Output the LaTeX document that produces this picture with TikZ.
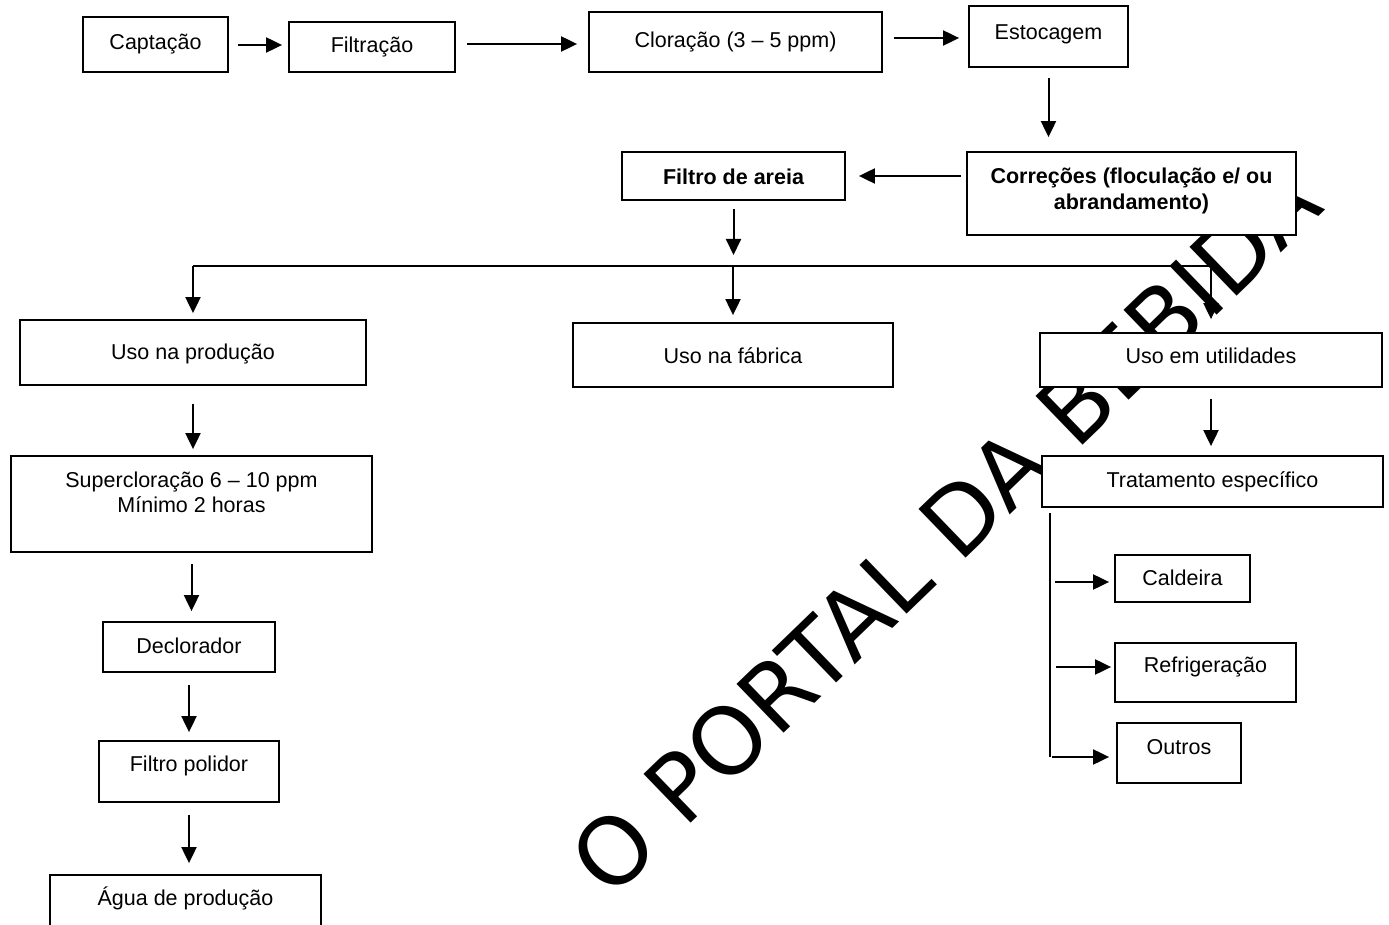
\documentclass[tikz,border=0pt]{standalone}
\usepackage{fontspec}
\setmainfont{Liberation Sans}
\newfontfamily\stampfont{DejaVu Sans}
\usetikzlibrary{arrows.meta}

\begin{document}
\begin{tikzpicture}[x=0.5pt, y=-0.5pt,
  box/.style={draw, fill=white, line width=0.9pt, inner sep=0pt, align=center,
    font=\fontsize{10.75}{13}\selectfont, text height=10pt, text depth=#1},
  box/.default=2.5pt,
  flow/.style={-{Triangle[length=8pt, width=7.5pt]}, line width=1pt},
  bus/.style={line width=0.8pt},
  stamp/.style={rotate=44, inner sep=0pt, font=\stampfont\fontsize{46.5}{46.5}\selectfont}]
\useasboundingbox (0,0) rectangle (1389,925);
\node[stamp] (mark) at (945,531) {O PORTAL DA BEBIDA};

\node[box=5pt, minimum width=72.5pt, minimum height=27.5pt] (capt) at (155.5,44.5) {Captação};
\node[box=4.5pt, minimum width=83pt, minimum height=25pt] (filt) at (372,47) {Filtração};
\node[box=4.5pt, minimum width=146.5pt, minimum height=30pt] (clor) at (735.5,42) {Cloração (3 – 5 ppm)};
\node[box=7pt, minimum width=79.5pt, minimum height=30.5pt] (esto) at (1048.5,36.5) {Estocagem};
\node[box=7pt, text height=23pt, minimum width=164.5pt, minimum height=41.5pt, font=\fontsize{10.75}{13}\selectfont\bfseries] (corr) at (1131.5,193.5) {Correções (floculação e/ ou\\abrandamento)};
\node[box=1.5pt, minimum width=111.5pt, minimum height=24pt, font=\fontsize{10.75}{13}\selectfont\bfseries] (fare) at (733.5,176) {Filtro de areia};

\node[box, minimum width=173pt, minimum height=32.5pt] (prod) at (193,352.5) {Uso na produção};
\node[box=1.5pt, minimum width=160pt, minimum height=32pt] (fabr) at (733,355) {Uso na fábrica};
\node[box=6.5pt, minimum width=171pt, minimum height=27pt] (util) at (1211,360) {Uso em utilidades};

\node[box=14pt, text height=23pt, minimum width=180.5pt, minimum height=48pt] (supc) at (191.5,504) {Supercloração 6 – 10 ppm\\Mínimo 2 horas};
\node[box=3.5pt, minimum width=86pt, minimum height=25pt] (decl) at (189,647) {Declorador};
\node[box=10pt, minimum width=90pt, minimum height=30.5pt] (fpol) at (189,771.5) {Filtro polidor};
\node[box=19.5pt, minimum width=135.5pt, minimum height=40pt] (agua) at (185.5,915) {Água de produção};

\node[box=4pt, minimum width=170.5pt, minimum height=25.5pt] (trat) at (1212.5,481.5) {Tratamento específico};
\node[box=3pt, minimum width=67.5pt, minimum height=23.5pt] (cald) at (1182.5,578.5) {Caldeira};
\node[box=10pt, minimum width=90.5pt, minimum height=29.5pt] (refr) at (1205.5,672.5) {Refrigeração};
\node[box=8.5pt, minimum width=62pt, minimum height=30pt] (outr) at (1179,753) {Outros};

\coordinate (split) at (733.5,266);
\coordinate (tap) at (1050,513);
\coordinate (tend) at (1050,757);

\draw[flow, shorten <=4.5pt, shorten >=3pt] (capt.east |- 0,45) -- (filt.west |- 0,45);
\draw[flow, shorten <=5.5pt, shorten >=5.5pt] (filt.east |- 0,44) -- (clor.west |- 0,44);
\draw[flow, shorten <=5.5pt, shorten >=4.5pt] (clor.east |- 0,38) -- (esto.west |- 0,38);
\draw[flow, shorten <=5pt, shorten >=7pt] (esto.south) -- (esto.south |- corr.north);
\draw[flow, shorten <=2.5pt, shorten >=6.5pt] (corr.west |- fare.east) -- (fare.east);
\draw[flow, shorten <=4pt, shorten >=5.5pt] (fare.south) -- (split);
\draw[bus] (prod.north |- split) -- (util.north |- split);
\draw[flow, shorten >=3pt] (prod.north |- split) -- (prod.north);
\draw[flow, shorten >=3.5pt] (fabr.north |- split) -- (fabr.north);
\draw[flow, shorten >=6.5pt] (util.north |- split) -- (util.north);

\draw[flow, shorten <=9pt, shorten >=3pt] (prod.south) -- (prod.south |- supc.north);
\draw[flow, shorten <=5.5pt, shorten >=5pt] (supc.south) -- (supc.south |- decl.north);
\draw[flow, shorten <=6pt, shorten >=4pt] (decl.south) -- (decl.south |- fpol.north);
\draw[flow, shorten <=6pt, shorten >=5.5pt] (fpol.south) -- (fpol.south |- agua.north);

\draw[flow, shorten <=5.5pt, shorten >=4.5pt] (util.south) -- (util.south |- trat.north);
\draw[bus] (tap) -- (tend);
\draw[flow, shorten <=2.5pt, shorten >=2.5pt] (tap |- 0,582) -- (cald.west |- 0,582);
\draw[flow, shorten <=3pt, shorten >=1.5pt] (tap |- 0,667) -- (refr.west |- 0,667);
\draw[flow, shorten <=1pt, shorten >=3.5pt] (tap |- tend) -- (outr.west |- tend);
\end{tikzpicture}
\end{document}
